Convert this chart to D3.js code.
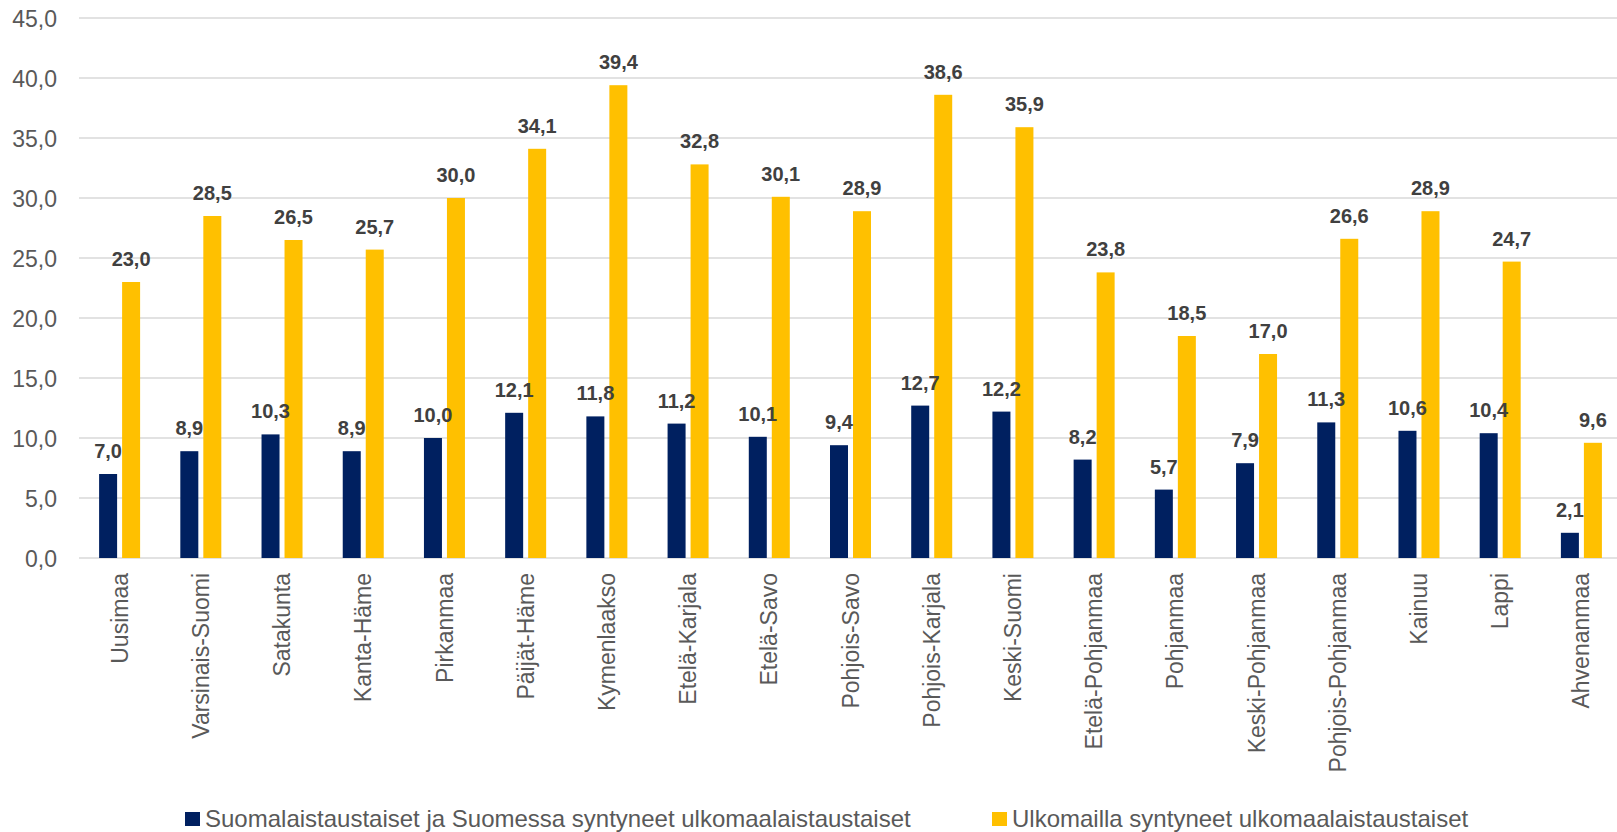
<!DOCTYPE html>
<html>
<head>
<meta charset="utf-8">
<script src="https://cdn.jsdelivr.net/npm/d3@7"></script>
<style>
  html, body { margin: 0; padding: 0; background: #fff; }
  svg { display: block; }
  text { font-family: "Liberation Sans", Arial, sans-serif; }
</style>
</head>
<body>
<svg id="chart" width="1617" height="832"></svg>
<script>
const categories = ["Uusimaa", "Varsinais-Suomi", "Satakunta", "Kanta-Häme", "Pirkanmaa", "Päijät-Häme", "Kymenlaakso", "Etelä-Karjala", "Etelä-Savo", "Pohjois-Savo", "Pohjois-Karjala", "Keski-Suomi", "Etelä-Pohjanmaa", "Pohjanmaa", "Keski-Pohjanmaa", "Pohjois-Pohjanmaa", "Kainuu", "Lappi", "Ahvenanmaa"];
const seriesNames = ["Suomalaistaustaiset ja Suomessa syntyneet ulkomaalaistaustaiset", "Ulkomailla syntyneet ulkomaalaistaustaiset"];
const finnishBackground = [7.0, 8.9, 10.3, 8.9, 10.0, 12.1, 11.8, 11.2, 10.1, 9.4, 12.7, 12.2, 8.2, 5.7, 7.9, 11.3, 10.6, 10.4, 2.1];
const bornAbroad = [23.0, 28.5, 26.5, 25.7, 30.0, 34.1, 39.4, 32.8, 30.1, 28.9, 38.6, 35.9, 23.8, 18.5, 17.0, 26.6, 28.9, 24.7, 9.6];
const yTicks = [0, 5, 10, 15, 20, 25, 30, 35, 40, 45];
const colors = ["#002060", "#FFC000"];

const seriesValues = [finnishBackground, bornAbroad];
const svg = d3.select("#chart");
const fmt = v => d3.format(".1f")(v).replace(".", ",");

const plotLeft = 79, plotRight = 1622, gridRight = 1617;
const y = d3.scaleLinear().domain([0, 45]).range([558, 18]);
const x0 = d3.scaleBand().domain(categories).range([plotLeft, plotRight]).paddingInner(0).paddingOuter(0);
const pairWidth = 41;
const x1 = d3.scaleBand().domain([0, 1]).range([0, pairWidth]).paddingInner(5 / 23).paddingOuter(0);

// gridlines
const grid = svg.append("g");
grid.selectAll("line").data(yTicks).join("line")
  .attr("x1", plotLeft).attr("x2", gridRight)
  .attr("y1", d => y(d)).attr("y2", d => y(d))
  .attr("stroke", "#d9d9d9").attr("stroke-width", 1.5);

// y axis labels
const yAxis = d3.axisLeft(y).tickValues(yTicks).tickFormat(fmt).tickSize(0).tickPadding(0);
const yg = svg.append("g").attr("transform", "translate(57,0)").call(yAxis);
yg.select(".domain").remove();
yg.selectAll("text").attr("font-size", 23).attr("fill", "#595959")
  .attr("font-family", "\"Liberation Sans\", Arial, sans-serif").attr("dy", "0.35em");

// flattened data
const points = [];
categories.forEach((cat, i) => {
  [0, 1].forEach(s => points.push({ cat, s, v: seriesValues[s][i] }));
});
const bx = d => x0(d.cat) + x0.bandwidth() / 2 - pairWidth / 2 + x1(d.s);

// bars
svg.append("g").selectAll("rect").data(points).join("rect")
  .attr("x", bx).attr("width", x1.bandwidth())
  .attr("y", d => y(d.v)).attr("height", d => y(0) - y(d.v))
  .attr("fill", d => colors[d.s]);

// data labels
svg.append("g").selectAll("text").data(points).join("text")
  .attr("x", d => bx(d) + x1.bandwidth() / 2)
  .attr("y", d => y(d.v) - 16)
  .attr("text-anchor", "middle")
  .attr("font-size", 20).attr("font-weight", "bold").attr("fill", "#404040")
  .text(d => fmt(d.v));

// x axis labels (rotated)
const xAxis = d3.axisBottom(x0).tickSize(0).tickPadding(0);
const xg = svg.append("g").attr("transform", `translate(0,${y(0)})`).call(xAxis);
xg.select(".domain").remove();
xg.selectAll("text")
  .attr("font-size", 23).attr("fill", "#595959")
  .attr("font-family", "\"Liberation Sans\", Arial, sans-serif")
  .attr("text-anchor", "end")
  .attr("transform", "rotate(-90)")
  .attr("x", -15).attr("y", 0).attr("dy", "0.35em");

// legend
const legendItems = [
  { name: seriesNames[0], color: colors[0], x: 185 },
  { name: seriesNames[1], color: colors[1], x: 992 }
];
const lg = svg.append("g").selectAll("g").data(legendItems).join("g")
  .attr("transform", d => `translate(${d.x},0)`);
lg.append("rect").attr("x", 0).attr("y", 812).attr("width", 15).attr("height", 14).attr("fill", d => d.color);
lg.append("text").attr("x", 20).attr("y", 827)
  .attr("font-size", 24).attr("fill", "#595959").text(d => d.name);
</script>
</body>
</html>
